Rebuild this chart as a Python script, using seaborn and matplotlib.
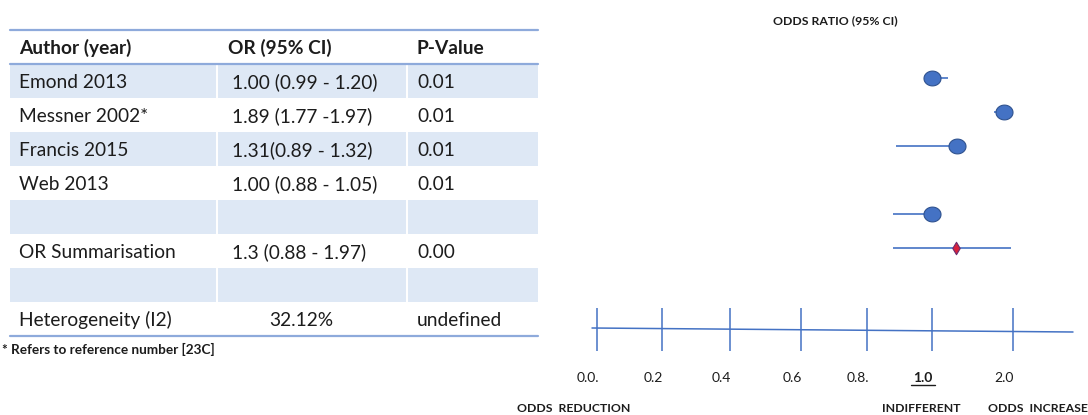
import numpy as np
import pandas as pd
import matplotlib
matplotlib.use("Agg")
import matplotlib.pyplot as plt
import matplotlib.transforms as mtransforms
from matplotlib.path import Path
import seaborn as sns

# ---------------- data ----------------
headers = ["Author (year)", "OR (95% CI)", "P-Value"]
authors = ["Emond 2013", "Messner 2002*", "Francis 2015", "Web 2013"]
or_text = ["1.00 (0.99 - 1.20)", "1.89 (1.77 -1.97)", "1.31(0.89 - 1.32)", "1.00 (0.88 - 1.05)"]
p_text = ["0.01", "0.01", "0.01", "0.01"]
or_est = [1.00, 1.89, 1.31, 1.00]
ci_low = [0.99, 1.77, 0.89, 0.88]
ci_high = [1.20, 1.97, 1.32, 1.05]

summary_label = "OR Summarisation"
summary_text = "1.3 (0.88 - 1.97)"
summary_p = "0.00"
summary_est = [1.3]
summary_low = [0.88]
summary_high = [1.97]

het_label = "Heterogeneity (I2)"
het_value = "32.12%"
het_p = "undefined"

scale_ticks = [0.0, 0.2, 0.4, 0.6, 0.8, 1.0, 2.0]
scale_labels = ["0.0.", "0.2", "0.4", "0.6", "0.8.", "1.0", "2.0"]
footnote = "* Refers to reference number [23C]"
plot_title = "ODDS RATIO (95% CI)"
bottom_labels = ["ODDS  REDUCTION", "INDIFFERENT", "ODDS  INCREASE"]

# ---------------- layout (pixels) ----------------
W, H = 1088, 415
TOP, ROWH = 30, 34
TX0, TX1 = 10, 538
COL_SEP = [217, 407]
COL_X = [19, 232, 417]
HEADER_X = [19, 228, 417]
HET_X = 269
STUDY_ROWS = [1, 2, 3, 5]
SUMMARY_ROW = 6
SCALE_PX = [597, 662, 730, 801, 867, 932, 1013]
BAR_PX = (592, 1073)
BAR_Y = (328, 332)
TICK_Y = (308, 351)
LABEL_Y = 378
BOTTOM_X = [574, 921, 1038]
BOTTOM_Y = 408

BAND = "#DEE8F5"
LINE = "#8EAADB"
BLUE = "#4472C4"
BLUE_EDGE = "#2F528F"
TXT = "#1c1c1c"

sns.set_theme(style="white")
plt.rcParams["font.family"] = ["Lato", "DejaVu Sans"]

fig = plt.figure(figsize=(W / 100, H / 100), dpi=100)
fig.patch.set_facecolor("white")

# ---- table axes (pixel coordinates) ----
axt = fig.add_axes([0, 0, 1, 1])
axt.set_xlim(0, W)
axt.set_ylim(H, 0)
axt.axis("off")

def row_top(r):
    return TOP + r * ROWH

def row_mid(r):
    return TOP + (r + 0.5) * ROWH + 1

table_rows = [headers] + [[a, o, p] for a, o, p in zip(authors, or_text, p_text)] \
    + [["", "", ""], [summary_label, summary_text, summary_p], ["", "", ""],
       [het_label, het_value, het_p]]

for r in range(1, len(table_rows)):
    if r % 2 == 1:
        axt.add_patch(plt.Rectangle((TX0, row_top(r)), TX1 - TX0, ROWH,
                                    facecolor=BAND, edgecolor="none", zorder=1))
for xs in COL_SEP:
    axt.plot([xs, xs], [row_top(1), row_top(len(table_rows))], color="white",
             lw=1.4, zorder=2)
for yl in [row_top(0), row_top(1), row_top(len(table_rows))]:
    axt.plot([TX0, TX1], [yl, yl], color=LINE, lw=1.6, zorder=3)

for r, cells in enumerate(table_rows):
    for c, txt in enumerate(cells):
        if not txt:
            continue
        x = HEADER_X[c] if r == 0 else COL_X[c]
        if r == len(table_rows) - 1 and c == 1:
            x = HET_X
        axt.text(x, row_mid(r), txt, ha="left", va="center", fontsize=13.8,
                 color=TXT, fontweight="bold" if r == 0 else "normal", zorder=4)

axt.text(2, row_top(len(table_rows)) + 13, footnote, ha="left", va="center",
         fontsize=9.8, fontweight="bold", color=TXT)

# ---- forest axes (odds-ratio scale) ----
xs_arr = np.array(scale_ticks, float)
ps_arr = np.array(SCALE_PX, float)

def _pw(x, a, b):
    x = np.asarray(x, float)
    y = np.interp(x, a, b)
    lo_s = (b[1] - b[0]) / (a[1] - a[0])
    hi_s = (b[-1] - b[-2]) / (a[-1] - a[-2])
    y = np.where(x < a[0], b[0] + (x - a[0]) * lo_s, y)
    y = np.where(x > a[-1], b[-1] + (x - a[-1]) * hi_s, y)
    return y

def fwd(x):
    return _pw(x, xs_arr, ps_arr)

def inv(p):
    return _pw(p, ps_arr, xs_arr)

axf = fig.add_axes([0, 0, 1, 1])
axf.patch.set_alpha(0)
axf.set_xscale("function", functions=(fwd, inv))
axf.set_xlim(float(inv(0)), float(inv(W)))
axf.set_ylim(H, 0)
axf.axis("off")

study_y = [row_mid(r) - 4 for r in STUDY_ROWS]
sum_y = [row_mid(SUMMARY_ROW) - 4]
df = pd.DataFrame({"or": or_est, "lo": ci_low, "hi": ci_high, "y": study_y})
dfs = pd.DataFrame({"or": summary_est, "lo": summary_low, "hi": summary_high, "y": sum_y})

axf.hlines(df["y"], df["lo"], df["hi"], color=BLUE, lw=1.2, zorder=2)
axf.hlines(dfs["y"], dfs["lo"], dfs["hi"], color=BLUE, lw=1.2, zorder=2)

t = np.linspace(0, 2 * np.pi, 64)
ellipse = Path(np.column_stack([1.15 * np.cos(t), np.sin(t)]), closed=True)
sns.scatterplot(data=df, x="or", y="y", ax=axf, marker=ellipse, s=150,
                color=BLUE, edgecolor=BLUE_EDGE, linewidth=0.8, zorder=3, legend=False)
sns.scatterplot(data=dfs, x="or", y="y", ax=axf, marker="d", s=40,
                color="#D9213C", edgecolor="#6A2C6E", linewidth=0.8, zorder=3, legend=False)

# scale bar
axf.plot([float(inv(BAR_PX[0])), float(inv(BAR_PX[1]))], list(BAR_Y), color=BLUE, lw=1.1, zorder=2)
axf.vlines(scale_ticks, TICK_Y[0], TICK_Y[1], color=BLUE, lw=1.1, zorder=2)
lab_tr = mtransforms.offset_copy(axf.transData, fig=fig, x=-9, y=0, units="dots")
for v, lab in zip(scale_ticks, scale_labels):
    bold = lab == "1.0"
    axf.text(v, LABEL_Y, lab, transform=lab_tr, ha="center", va="center",
             fontsize=10, color=TXT, fontweight="bold" if bold else "normal")
    if bold:
        px = float(fwd(v)) - 9
        axt.plot([px - 12, px + 12], [LABEL_Y + 7, LABEL_Y + 7], color=TXT, lw=1.0)

# texts
axt.text(835, 21, plot_title, ha="center", va="center", fontsize=8.8,
         fontweight="bold", color=TXT)
for bx, bl in zip(BOTTOM_X, bottom_labels):
    axt.text(bx, BOTTOM_Y, bl, ha="center", va="center", fontsize=8.8,
             fontweight="bold", color=TXT)

fig.savefig("out.png", dpi=100, facecolor="white")
